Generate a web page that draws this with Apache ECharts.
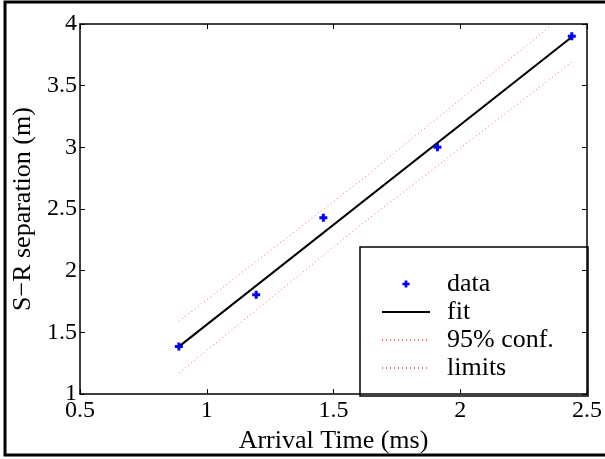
<!DOCTYPE html>
<html>
<head>
<meta charset="utf-8">
<script src="https://cdn.jsdelivr.net/npm/echarts@6/dist/echarts.min.js"></script>
<style>
  html, body { margin: 0; padding: 0; background: #fff; }
  #chart { width: 605px; height: 459px; }
</style>
</head>
<body>
<div id="chart"></div>
<script>
// measured points
const arrivalTime = [0.89, 1.195, 1.46, 1.91, 2.44]
const separation = [1.385, 1.805, 2.43, 3.0, 3.9]
// fitted line endpoints and 95% confidence limits
const fitLine = [[0.89, 1.385], [2.44, 3.895]]
const upperLimit = [[0.89, 1.59], [1.6, 2.72], [2.36, 3.99]]
const lowerLimit = [[0.89, 1.17], [1.6, 2.36], [2.44, 3.69]]
const xTicks = [0.5, 2.5, 0.5]
const yTicks = [1, 4, 0.5]

const font = 'Liberation Serif'
const plus = 'path://M2.5,0H5.5V2.5H8V5.5H5.5V8H2.5V5.5H0V2.5H2.5Z'

const chart = echarts.init(document.getElementById('chart'))

const mirrorAxis = {
  axisLine: { show: true, lineStyle: { color: '#000', width: 1.5 } },
  axisTick: { show: true, inside: true, length: 5, lineStyle: { color: '#000' } },
  axisLabel: { show: false },
  splitLine: { show: false }
}

chart.setOption({
  animation: false,
  backgroundColor: '#fff',
  grid: { left: 80, right: 16, top: 24, bottom: 63 },
  xAxis: [
    {
      type: 'value',
      min: xTicks[0],
      max: xTicks[1],
      interval: xTicks[2],
      name: 'Arrival Time (ms)',
      nameLocation: 'middle',
      nameGap: 25,
      nameTextStyle: { fontFamily: font, fontSize: 26, color: '#000' },
      axisLine: { show: true, lineStyle: { color: '#000', width: 1.5 } },
      axisTick: { show: true, inside: true, length: 5, lineStyle: { color: '#000' } },
      axisLabel: { margin: 5, fontFamily: font, fontSize: 24, color: '#000' },
      splitLine: { show: false }
    },
    Object.assign({ type: 'value', position: 'top', min: xTicks[0], max: xTicks[1], interval: xTicks[2] }, mirrorAxis)
  ],
  yAxis: [
    {
      type: 'value',
      min: yTicks[0],
      max: yTicks[1],
      interval: yTicks[2],
      name: 'S\u2212R separation (m)',
      nameLocation: 'middle',
      nameGap: 37,
      nameTextStyle: { fontFamily: font, fontSize: 26, color: '#000' },
      axisLine: { show: true, lineStyle: { color: '#000', width: 1.5 } },
      axisTick: { show: true, inside: true, length: 5, lineStyle: { color: '#000' } },
      axisLabel: { margin: 3, fontFamily: font, fontSize: 24, color: '#000' },
      splitLine: { show: false }
    },
    Object.assign({ type: 'value', position: 'right', min: yTicks[0], max: yTicks[1], interval: yTicks[2] }, mirrorAxis)
  ],
  legend: {
    orient: 'vertical',
    left: 376,
    top: 266,
    itemWidth: 48,
    itemHeight: 9,
    itemGap: 2,
    textStyle: { fontFamily: font, fontSize: 26, color: '#000', padding: [0, 0, 0, 12] },
    data: [
      { name: 'data' },
      { name: 'fit', itemStyle: { opacity: 0 } },
      { name: '95% conf.', itemStyle: { opacity: 0 } },
      { name: 'limits', itemStyle: { opacity: 0 } }
    ]
  },
  graphic: [
    {
      type: 'rect',
      z: 0,
      shape: { x: 360, y: 247, width: 228, height: 149 },
      style: { fill: '#fff', stroke: '#000', lineWidth: 1.5 }
    },
    {
      type: 'rect',
      z: 100,
      shape: { x: 5, y: 2, width: 620, height: 453 },
      style: { fill: 'none', stroke: '#000', lineWidth: 3 }
    }
  ],
  series: [
    {
      name: 'data',
      type: 'line',
      data: arrivalTime.map((x, i) => [x, separation[i]]),
      symbol: plus,
      symbolSize: 8,
      showSymbol: true,
      itemStyle: { color: '#0000ff' },
      lineStyle: { width: 0, opacity: 0 },
      z: 5
    },
    {
      name: 'fit',
      type: 'line',
      data: fitLine,
      symbol: 'none',
      itemStyle: { color: '#000' },
      lineStyle: { color: '#000', width: 2 },
      z: 4
    },
    {
      name: '95% conf.',
      type: 'line',
      data: upperLimit,
      symbol: 'none',
      itemStyle: { color: '#ff6666' },
      lineStyle: { color: '#ff6666', width: 1, type: [1, 3] }
    },
    {
      name: 'limits',
      type: 'line',
      data: lowerLimit,
      symbol: 'none',
      itemStyle: { color: '#ff6666' },
      lineStyle: { color: '#ff6666', width: 1, type: [1, 3] }
    }
  ]
})
</script>
</body>
</html>
